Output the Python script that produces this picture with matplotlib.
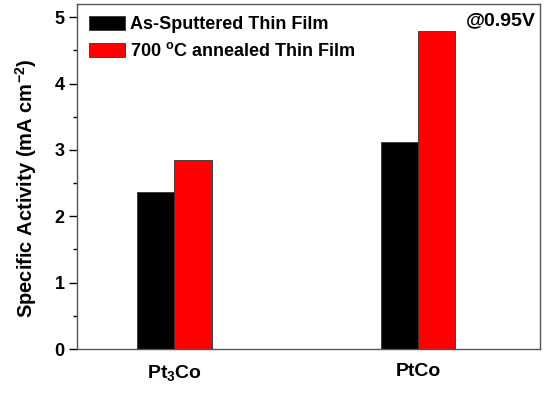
import numpy as np
import matplotlib.pyplot as plt

categories = ["Pt$_3$Co", "PtCo"]
as_sputtered = [2.36, 3.12]
annealed = [2.85, 4.80]
labels = ["As-Sputtered Thin Film", "700 $^{\\mathregular{o}}$C annealed Thin Film"]

plt.rcParams["font.family"] = ["Liberation Sans", "DejaVu Sans"]
plt.rcParams["font.weight"] = "bold"
plt.rcParams["mathtext.default"] = "regular"

fig = plt.figure(figsize=(5.49, 3.97), dpi=100)
ax = fig.add_axes([77 / 549, 1 - 349 / 397, (540 - 77) / 549, (349 - 4) / 397])

x = np.arange(1, len(categories) + 1)
w = 0.152
ax.bar(x - w / 2, as_sputtered, w, color="black", edgecolor="#333333", linewidth=0.6, label=labels[0])
ax.bar(x + w / 2, annealed, w, color="#ff0000", edgecolor="#333333", linewidth=0.6, label=labels[1])

ax.set_xlim(0.6, 2.5)
ax.set_ylim(0, 5.2)
ax.set_xticks(x)
ax.set_xticklabels(categories, fontsize=14, fontweight="bold")
ax.tick_params(axis="x", length=0, pad=10)
ax.set_yticks([0, 1, 2, 3, 4, 5])
ax.set_yticks(np.arange(0.5, 5, 1), minor=True)
ax.tick_params(axis="y", which="major", length=6, width=1, labelsize=13, direction="out", pad=3)
ax.tick_params(axis="y", which="minor", length=3, width=1, direction="out")
for lab in ax.get_yticklabels():
    lab.set_fontweight("bold")
for s in ax.spines.values():
    s.set_color("#555555")
    s.set_linewidth(1)

ax.set_ylabel("Specific Activity (mA cm$^{\\mathregular{-2}}$)", fontsize=14.5, fontweight="bold")
ax.yaxis.set_label_coords(-0.083, 0.465)

leg = ax.legend(loc="upper left", frameon=False, prop={"weight": "bold", "size": 13},
                handlelength=2.0, handleheight=0.85, borderaxespad=0.25, labelspacing=0.5, handletextpad=0.3)
ax.text(0.99, 0.975, "@0.95V", transform=ax.transAxes, ha="right", va="top", fontsize=14, fontweight="bold")

fig.savefig("out.png", dpi=100)
